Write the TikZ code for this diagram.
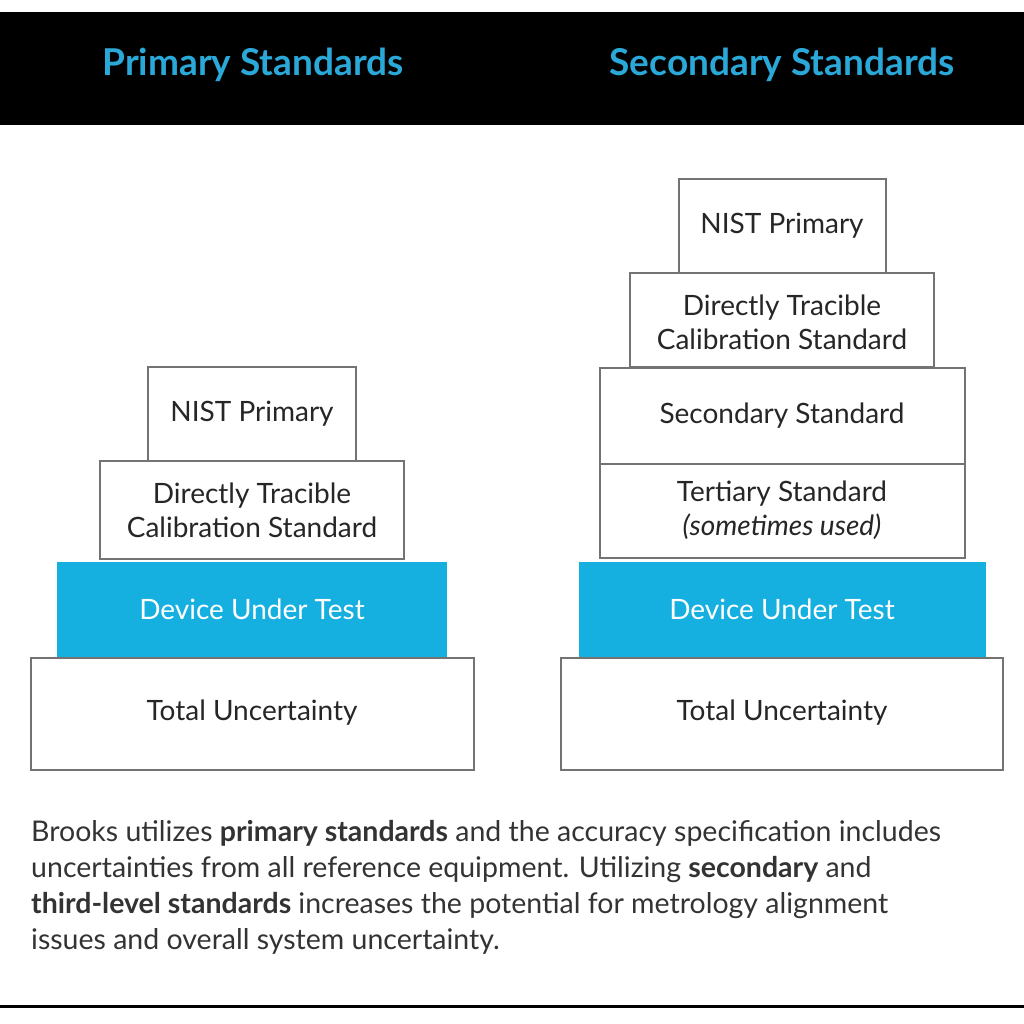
\documentclass[tikz,border=0pt]{standalone}
\usepackage{fontspec}
\setmainfont{Lato}
\definecolor{cy}{HTML}{16B0E0}
\definecolor{hd}{HTML}{2AA8D8}
\begin{document}
\begin{tikzpicture}[x=1pt,y=-1pt,
 bx/.style={draw=black!55,line width=1.8pt,fill=white},
 lb/.style={font=\fontsize{28}{34}\selectfont,align=center,text=black!85},
 hdr/.style={font=\fontsize{37}{40}\selectfont\bfseries,text=hd}]
\useasboundingbox (0,0) rectangle (1024,1024);
\fill[black] (0,12) rectangle (1024,125);
\node[hdr] (h1) at (253,65) {Primary Standards};
\node[hdr] (h2) at (782,65) {Secondary Standards};
% left
\draw[bx] (148,367) rectangle (356,461);
\node[lb] (l1) at (252,414) {NIST Primary};
\draw[bx] (100,461) rectangle (404,559);
\node[lb] (l2) at (252,510) {Directly Tracible\\Calibration Standard};
\fill[cy] (57,562) rectangle (447,657);
\node[lb,text=white] (l3) at (252,609) {Device Under Test};
\draw[bx] (31,658) rectangle (474,770);
\node[lb] (l4) at (252,713) {Total Uncertainty};
% right
\draw[bx] (679,179) rectangle (886,273);
\node[lb] (r1) at (782,226) {NIST Primary};
\draw[bx] (630,273) rectangle (934,367);
\node[lb] (r2) at (782,322) {Directly Tracible\\Calibration Standard};
\draw[bx] (600,368) rectangle (965,464);
\node[lb] (r3) at (782,416) {Secondary Standard};
\draw[bx] (600,464) rectangle (965,558);
\node[lb] (r4) at (782,510) {Tertiary Standard\\\itshape(sometimes used)};
\fill[cy] (579,562) rectangle (986,657);
\node[lb,text=white] (r5) at (782,609) {Device Under Test};
\draw[bx] (561,658) rectangle (1003,770);
\node[lb] (r6) at (782,713) {Total Uncertainty};
\node[anchor=north west,align=left,inner sep=0,text=black!80,font=\fontsize{28.5}{36}\selectfont] (p) at (31,820)
{Brooks utilizes \textbf{primary standards} and the accuracy specification includes\\
uncertainties from all reference equipment. Utilizing \textbf{secondary} and\\
\textbf{third-level standards} increases the potential for metrology alignment\\
issues and overall system uncertainty.};
\draw[black,line width=3pt] (0,1006) -- (1024,1006);
\end{tikzpicture}
\end{document}
